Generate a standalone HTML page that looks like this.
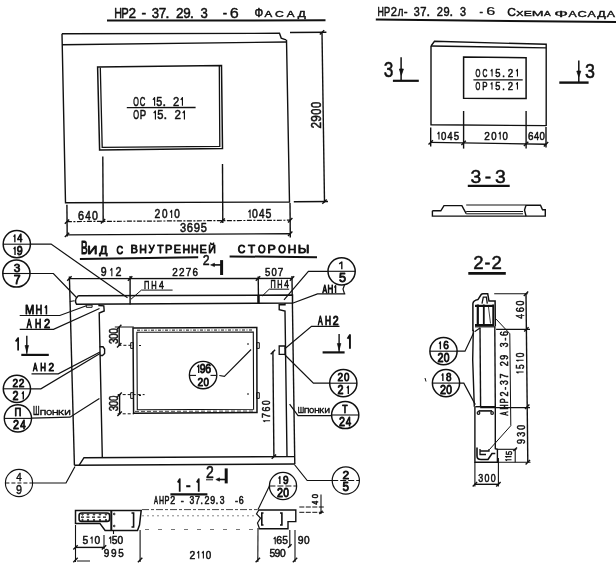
<!DOCTYPE html>
<html><head><meta charset="utf-8"><style>
html,body{margin:0;padding:0;background:#fff;width:616px;height:572px;overflow:hidden}
svg{display:block;will-change:transform}
text{font-family:"Liberation Sans",sans-serif;fill:#111;stroke:#111;stroke-width:0.5px;vector-effect:non-scaling-stroke;stroke-linejoin:round}
</style></head><body>
<svg width="616" height="572" viewBox="0 0 616 572">
<rect width="616" height="572" fill="#fff"/>
<text transform="translate(115.10,17.50) scale(0.690,1)" x="-1.28" y="0" font-size="15.55">Н</text><text transform="translate(122.08,17.50) scale(0.724,1)" x="-1.28" y="0" font-size="15.55">Р</text><text transform="translate(129.07,17.50) scale(0.876,1)" x="-0.78" y="0" font-size="15.55">2</text><text transform="translate(142.07,17.50) scale(0.902,1)" x="-0.69" y="0" font-size="15.55">-</text><text transform="translate(152.29,17.50) scale(0.842,1)" x="-0.59" y="0" font-size="15.55">3</text><text transform="translate(159.49,17.50) scale(0.878,1)" x="-0.80" y="0" font-size="15.55">7</text><text transform="translate(166.69,17.50) scale(1.000,1)" x="-1.42" y="0" font-size="15.55">.</text><text transform="translate(176.69,17.50) scale(0.876,1)" x="-0.78" y="0" font-size="15.55">2</text><text transform="translate(183.89,17.50) scale(0.864,1)" x="-0.73" y="0" font-size="15.55">9</text><text transform="translate(191.09,17.50) scale(1.000,1)" x="-1.42" y="0" font-size="15.55">.</text><text transform="translate(201.09,17.50) scale(0.842,1)" x="-0.59" y="0" font-size="15.55">3</text>
<text transform="translate(223.40,17.50) scale(0.843,1)" x="-0.69" y="0" font-size="15.55">-</text>
<text transform="translate(230.50,17.50) scale(1.045,1)" x="-0.79" y="0" font-size="15.55" style="stroke-width:0.35px">6</text>
<text transform="translate(255.10,17.20) scale(0.963,1)" x="-0.69" y="0" font-size="11.92">Ф</text>
<text transform="translate(264.50,17.20) scale(1.336,1)" x="-0.02" y="0" font-size="8.72">А</text><text transform="translate(275.59,17.20) scale(1.399,1)" x="-0.44" y="0" font-size="8.72">С</text><text transform="translate(286.68,17.20) scale(1.336,1)" x="-0.02" y="0" font-size="8.72">А</text><text transform="translate(297.77,17.20) scale(1.360,1)" x="-0.06" y="0" font-size="8.72">Д</text>
<polyline points="107.0,20.6 325.5,20.3" fill="none" stroke="#111" stroke-width="2.0"/>
<polyline points="62.0,33.8 279.5,33.3 281.2,38.1 286.0,39.8" fill="none" stroke="#111" stroke-width="1.4"/>
<polyline points="62.0,44.8 286.5,42.0" fill="none" stroke="#111" stroke-width="1.4"/>
<polyline points="62.0,33.8 65.5,202.8 289.5,202.0 286.5,39.8" fill="none" stroke="#111" stroke-width="1.4"/>
<polygon points="97.6,67.0 221.5,65.5 222.5,148.5 99.6,150.0" fill="none" stroke="#111" stroke-width="1.5"/>
<polyline points="100.3,67.5 102.2,147.3 219.8,146.3 219.3,66.0" fill="none" stroke="#111" stroke-width="1.3"/>
<text transform="translate(133.60,105.80) scale(0.564,1)" x="-0.61" y="0" font-size="12.79">О</text><text transform="translate(140.17,105.80) scale(0.608,1)" x="-0.65" y="0" font-size="12.79">С</text><path d="M152.92,99.82 L154.59,97.57 L154.59,105.80" fill="none" stroke="#111" stroke-width="1.14" stroke-linejoin="round"/><text transform="translate(156.80,105.80) scale(0.842,1)" x="-0.51" y="0" font-size="12.79">5</text><text transform="translate(163.55,105.80) scale(1.000,1)" x="-1.17" y="0" font-size="12.79">.</text><text transform="translate(173.44,105.80) scale(0.876,1)" x="-0.64" y="0" font-size="12.79">2</text><path d="M180.76,99.82 L182.43,97.57 L182.43,105.80" fill="none" stroke="#111" stroke-width="1.14" stroke-linejoin="round"/>
<polyline points="126.8,107.7 195.6,107.5" fill="none" stroke="#111" stroke-width="1.3"/>
<text transform="translate(133.60,119.40) scale(0.564,1)" x="-0.63" y="0" font-size="13.23">О</text><text transform="translate(140.43,119.40) scale(0.724,1)" x="-1.09" y="0" font-size="13.23">Р</text><path d="M153.69,113.21 L155.42,110.89 L155.42,119.40" fill="none" stroke="#111" stroke-width="1.18" stroke-linejoin="round"/><text transform="translate(157.75,119.40) scale(0.842,1)" x="-0.53" y="0" font-size="13.23">5</text><text transform="translate(164.77,119.40) scale(1.000,1)" x="-1.21" y="0" font-size="13.23">.</text><text transform="translate(175.07,119.40) scale(0.876,1)" x="-0.67" y="0" font-size="13.23">2</text><path d="M182.68,113.21 L184.41,110.89 L184.41,119.40" fill="none" stroke="#111" stroke-width="1.18" stroke-linejoin="round"/>
<polyline points="102.8,156.6 103.2,222.5" fill="none" stroke="#111" stroke-width="1.4"/>
<polyline points="222.5,164.0 222.8,223.0" fill="none" stroke="#111" stroke-width="1.4"/>
<polyline points="66.9,204.7 67.2,236.5" fill="none" stroke="#111" stroke-width="1.4"/>
<polyline points="290.0,203.0 290.3,237.5" fill="none" stroke="#111" stroke-width="1.4"/>
<polyline points="66.9,221.6 290.3,220.2" fill="none" stroke="#111" stroke-width="1.2" stroke-dasharray="5,1.5,2,1.5"/>
<polyline points="66.9,234.9 290.3,233.7" fill="none" stroke="#111" stroke-width="1.4"/>
<polyline points="64.8,223.8 69.2,219.4" fill="none" stroke="#111" stroke-width="1.4"/>
<polyline points="100.8,223.5 105.2,219.1" fill="none" stroke="#111" stroke-width="1.4"/>
<polyline points="220.4,222.8 224.8,218.4" fill="none" stroke="#111" stroke-width="1.4"/>
<polyline points="288.0,222.4 292.4,218.0" fill="none" stroke="#111" stroke-width="1.4"/>
<polyline points="64.8,237.1 69.2,232.7" fill="none" stroke="#111" stroke-width="1.4"/>
<polyline points="288.0,235.9 292.4,231.5" fill="none" stroke="#111" stroke-width="1.4"/>
<text transform="translate(78.60,219.50) scale(0.865,1)" x="-0.64" y="0" font-size="12.65">6</text><text transform="translate(85.53,219.50) scale(0.792,1)" x="-0.29" y="0" font-size="12.65">4</text><text transform="translate(92.45,219.50) scale(0.835,1)" x="-0.49" y="0" font-size="12.65">0</text>
<text transform="translate(155.00,217.90) scale(0.876,1)" x="-0.60" y="0" font-size="11.92">2</text><text transform="translate(162.29,217.90) scale(0.835,1)" x="-0.47" y="0" font-size="11.92">0</text><path d="M170.13,212.32 L171.66,210.25 L171.66,217.90" fill="none" stroke="#111" stroke-width="1.10" stroke-linejoin="round"/><text transform="translate(174.74,217.90) scale(0.835,1)" x="-0.47" y="0" font-size="11.92">0</text>
<path d="M248.46,212.15 L250.09,209.96 L250.09,218.00" fill="none" stroke="#111" stroke-width="1.12" stroke-linejoin="round"/><text transform="translate(252.45,218.00) scale(0.835,1)" x="-0.49" y="0" font-size="12.50">0</text><text transform="translate(259.23,218.00) scale(0.792,1)" x="-0.29" y="0" font-size="12.50">4</text><text transform="translate(266.01,218.00) scale(0.842,1)" x="-0.50" y="0" font-size="12.50">5</text>
<text transform="translate(180.30,231.70) scale(0.842,1)" x="-0.50" y="0" font-size="13.08">3</text><text transform="translate(187.23,231.70) scale(0.865,1)" x="-0.66" y="0" font-size="13.08">6</text><text transform="translate(194.15,231.70) scale(0.864,1)" x="-0.61" y="0" font-size="13.08">9</text><text transform="translate(201.08,231.70) scale(0.842,1)" x="-0.52" y="0" font-size="13.08">5</text>
<polyline points="290.0,32.5 326.4,32.3" fill="none" stroke="#111" stroke-width="1.4"/>
<polyline points="293.8,201.8 328.0,201.5" fill="none" stroke="#111" stroke-width="1.4"/>
<polyline points="322.0,32.4 324.5,202.5" fill="none" stroke="#111" stroke-width="1.4"/>
<polyline points="319.8,34.6 324.2,30.2" fill="none" stroke="#111" stroke-width="1.4"/>
<polyline points="322.3,203.8 326.7,199.4" fill="none" stroke="#111" stroke-width="1.4"/>
<g transform="translate(320.60,128.00) rotate(-90)"><text transform="translate(0.00,0.00) scale(0.832,1)" x="-0.72" y="0" font-size="14.24">2</text><text transform="translate(6.80,0.00) scale(0.821,1)" x="-0.67" y="0" font-size="14.24">9</text><text transform="translate(13.60,0.00) scale(0.793,1)" x="-0.56" y="0" font-size="14.24">0</text><text transform="translate(20.40,0.00) scale(0.793,1)" x="-0.56" y="0" font-size="14.24">0</text></g>
<text transform="translate(378.20,15.60) scale(0.690,1)" x="-1.05" y="0" font-size="12.79">Н</text><text transform="translate(384.69,15.60) scale(0.724,1)" x="-1.05" y="0" font-size="12.79">Р</text><text transform="translate(391.19,15.60) scale(0.876,1)" x="-0.64" y="0" font-size="12.79">2</text><text transform="translate(397.86,15.60) scale(0.757,1)" x="-0.07" y="0" font-size="12.79">л</text><text transform="translate(404.35,15.60) scale(0.902,1)" x="-0.57" y="0" font-size="12.79">-</text><text transform="translate(414.26,15.60) scale(0.842,1)" x="-0.49" y="0" font-size="12.79">3</text><text transform="translate(420.93,15.60) scale(0.878,1)" x="-0.66" y="0" font-size="12.79">7</text><text transform="translate(427.60,15.60) scale(1.000,1)" x="-1.17" y="0" font-size="12.79">.</text><text transform="translate(437.33,15.60) scale(0.876,1)" x="-0.64" y="0" font-size="12.79">2</text><text transform="translate(444.00,15.60) scale(0.864,1)" x="-0.60" y="0" font-size="12.79">9</text><text transform="translate(450.67,15.60) scale(1.000,1)" x="-1.17" y="0" font-size="12.79">.</text><text transform="translate(460.40,15.60) scale(0.842,1)" x="-0.49" y="0" font-size="12.79">3</text>
<text transform="translate(479.99,15.40) scale(1.000,1)" x="-0.46" y="0" font-size="10.32">-</text>
<text transform="translate(487.00,15.40) scale(1.575,1)" x="-0.52" y="0" font-size="10.32" style="stroke-width:0.3px">6</text>
<text transform="translate(507.90,16.10) scale(1.058,1)" x="-0.58" y="0" font-size="11.34">С</text>
<text transform="translate(516.50,16.10) scale(1.359,1)" x="-0.18" y="0" font-size="7.85">Х</text><text transform="translate(524.70,16.10) scale(1.564,1)" x="-0.64" y="0" font-size="7.85">Е</text><text transform="translate(532.90,16.10) scale(1.810,1)" x="-0.64" y="0" font-size="7.85">М</text><text transform="translate(543.95,16.10) scale(1.278,1)" x="-0.02" y="0" font-size="7.85">А</text>
<text transform="translate(555.30,17.00) scale(2.219,1)" x="-0.47" y="0" font-size="8.14">Ф</text><text transform="translate(568.40,17.00) scale(1.511,1)" x="-0.02" y="0" font-size="8.14">А</text><text transform="translate(578.02,17.00) scale(1.582,1)" x="-0.41" y="0" font-size="8.14">С</text><text transform="translate(587.63,17.00) scale(1.511,1)" x="-0.02" y="0" font-size="8.14">А</text><text transform="translate(597.24,17.00) scale(1.538,1)" x="-0.06" y="0" font-size="8.14">Д</text><text transform="translate(606.85,17.00) scale(1.511,1)" x="-0.02" y="0" font-size="8.14">А</text>
<polyline points="375.8,19.6 616.0,22.0" fill="none" stroke="#111" stroke-width="2.0"/>
<polyline points="431.0,46.0 434.5,41.3 546.2,44.3 546.2,126.0" fill="none" stroke="#111" stroke-width="1.4"/>
<polyline points="431.0,46.0 546.2,47.9" fill="none" stroke="#111" stroke-width="1.4"/>
<polyline points="431.0,46.0 431.0,124.8 546.2,125.6" fill="none" stroke="#111" stroke-width="1.4"/>
<polygon points="463.6,57.0 526.1,57.8 526.1,98.6 463.6,98.2" fill="none" stroke="#111" stroke-width="1.5"/>
<text transform="translate(475.70,76.50) scale(0.564,1)" x="-0.53" y="0" font-size="11.19">О</text><text transform="translate(482.93,76.50) scale(0.608,1)" x="-0.57" y="0" font-size="11.19">С</text><path d="M490.71,71.26 L492.07,69.35 L492.07,76.50" fill="none" stroke="#111" stroke-width="1.10" stroke-linejoin="round"/><text transform="translate(495.54,76.50) scale(0.842,1)" x="-0.45" y="0" font-size="11.19">5</text><text transform="translate(502.92,76.50) scale(1.000,1)" x="-1.02" y="0" font-size="11.19">.</text><text transform="translate(508.15,76.50) scale(0.876,1)" x="-0.56" y="0" font-size="11.19">2</text><path d="M516.09,71.26 L517.45,69.35 L517.45,76.50" fill="none" stroke="#111" stroke-width="1.10" stroke-linejoin="round"/>
<polyline points="473.4,79.8 522.7,79.8" fill="none" stroke="#111" stroke-width="1.3"/>
<text transform="translate(475.70,89.50) scale(0.564,1)" x="-0.52" y="0" font-size="10.90">О</text><text transform="translate(482.93,89.50) scale(0.724,1)" x="-0.89" y="0" font-size="10.90">Р</text><path d="M490.70,84.40 L492.00,82.55 L492.00,89.50" fill="none" stroke="#111" stroke-width="1.10" stroke-linejoin="round"/><text transform="translate(495.58,89.50) scale(0.842,1)" x="-0.44" y="0" font-size="10.90">5</text><text transform="translate(502.95,89.50) scale(1.000,1)" x="-1.00" y="0" font-size="10.90">.</text><text transform="translate(508.23,89.50) scale(0.876,1)" x="-0.55" y="0" font-size="10.90">2</text><path d="M516.15,84.40 L517.45,82.55 L517.45,89.50" fill="none" stroke="#111" stroke-width="1.10" stroke-linejoin="round"/>
<polyline points="463.6,111.0 463.6,148.6" fill="none" stroke="#111" stroke-width="1.4"/>
<polyline points="526.1,111.0 526.1,148.6" fill="none" stroke="#111" stroke-width="1.4"/>
<polyline points="430.7,127.5 430.7,146.5" fill="none" stroke="#111" stroke-width="1.4"/>
<polyline points="546.0,127.0 546.0,147.5" fill="none" stroke="#111" stroke-width="1.4"/>
<polyline points="430.7,142.4 546.0,144.2" fill="none" stroke="#111" stroke-width="1.4"/>
<polyline points="428.5,144.6 432.9,140.2" fill="none" stroke="#111" stroke-width="1.4"/>
<polyline points="461.4,145.1 465.8,140.7" fill="none" stroke="#111" stroke-width="1.4"/>
<polyline points="523.9,146.1 528.3,141.7" fill="none" stroke="#111" stroke-width="1.4"/>
<polyline points="543.8,146.4 548.2,142.0" fill="none" stroke="#111" stroke-width="1.4"/>
<path d="M437.55,134.13 L438.98,132.15 L438.98,139.50" fill="none" stroke="#111" stroke-width="1.10" stroke-linejoin="round"/><text transform="translate(441.30,139.50) scale(0.835,1)" x="-0.45" y="0" font-size="11.48">0</text><text transform="translate(447.66,139.50) scale(0.792,1)" x="-0.26" y="0" font-size="11.48">4</text><text transform="translate(454.02,139.50) scale(0.842,1)" x="-0.46" y="0" font-size="11.48">5</text>
<text transform="translate(484.80,139.50) scale(0.876,1)" x="-0.58" y="0" font-size="11.48">2</text><text transform="translate(491.52,139.50) scale(0.835,1)" x="-0.45" y="0" font-size="11.48">0</text><path d="M498.80,134.13 L500.23,132.15 L500.23,139.50" fill="none" stroke="#111" stroke-width="1.10" stroke-linejoin="round"/><text transform="translate(502.92,139.50) scale(0.835,1)" x="-0.45" y="0" font-size="11.48">0</text>
<text transform="translate(528.60,139.50) scale(0.865,1)" x="-0.58" y="0" font-size="11.48">6</text><text transform="translate(534.26,139.50) scale(0.792,1)" x="-0.26" y="0" font-size="11.48">4</text><text transform="translate(539.92,139.50) scale(0.835,1)" x="-0.45" y="0" font-size="11.48">0</text>
<text transform="translate(384.30,77.20) scale(0.793,1)" x="-0.83" y="0" font-size="21.80">3</text>
<polyline points="401.1,57.3 401.1,80.4" fill="none" stroke="#111" stroke-width="1.5"/>
<polygon points="399.4,69.0 403.4,69.0 401.3,75.2" fill="#111" stroke="#111" stroke-width="0.8"/>
<polyline points="392.9,80.8 418.8,80.8" fill="none" stroke="#111" stroke-width="2.2"/>
<text transform="translate(585.70,77.60) scale(0.920,1)" x="-0.74" y="0" font-size="19.48">3</text>
<polyline points="578.8,60.6 578.8,82.5" fill="none" stroke="#111" stroke-width="1.5"/>
<polygon points="576.8,71.1 580.8,71.1 578.8,76.8" fill="#111" stroke="#111" stroke-width="0.8"/>
<polyline points="559.3,82.6 588.6,82.6" fill="none" stroke="#111" stroke-width="2.4"/>
<text transform="translate(471.20,182.50) scale(1.010,1)" x="-0.73" y="0" font-size="19.19">3</text><text transform="translate(485.66,182.50) scale(1.000,1)" x="-0.85" y="0" font-size="19.19">-</text><text transform="translate(495.61,182.50) scale(1.010,1)" x="-0.73" y="0" font-size="19.19">3</text>
<polyline points="467.8,185.8 509.7,185.8" fill="none" stroke="#111" stroke-width="2.2"/>
<polyline points="432.4,210.8 440.8,210.8 444.0,205.6 461.9,205.6 466.2,213.6" fill="none" stroke="#111" stroke-width="1.4"/>
<polyline points="432.4,210.8 432.4,216.1 545.3,216.1 545.3,209.8 542.5,209.8 540.5,205.3 526.0,205.3" fill="none" stroke="#111" stroke-width="1.4"/>
<polyline points="466.2,205.0 526.0,205.0" fill="none" stroke="#111" stroke-width="1.0"/>
<polyline points="466.2,211.5 523.0,211.5" fill="none" stroke="#111" stroke-width="1.0"/>
<polyline points="466.2,213.8 523.0,213.8" fill="none" stroke="#111" stroke-width="1.0"/>
<polyline points="526.0,205.3 524.5,210.0 526.0,216.1" fill="none" stroke="#111" stroke-width="1.4"/>
<text transform="translate(474.10,269.00) scale(1.051,1)" x="-0.89" y="0" font-size="17.73">2</text><text transform="translate(485.34,269.00) scale(1.000,1)" x="-0.79" y="0" font-size="17.73">-</text><text transform="translate(492.41,269.00) scale(1.051,1)" x="-0.89" y="0" font-size="17.73">2</text>
<polyline points="468.3,273.4 505.8,273.4" fill="none" stroke="#111" stroke-width="2.6"/>
<text transform="translate(81.80,253.50) scale(0.571,1)" x="-1.43" y="0" font-size="17.44" style="stroke-width:0.9px">В</text>
<text transform="translate(88.50,253.50) scale(1.250,1)" x="-0.93" y="0" font-size="11.34" style="stroke-width:0.9px">И</text><text transform="translate(99.24,253.50) scale(1.065,1)" x="-0.08" y="0" font-size="11.34" style="stroke-width:0.9px">Д</text>
<text transform="translate(116.90,253.50) scale(0.808,1)" x="-0.58" y="0" font-size="11.34" style="stroke-width:0.9px">С</text>
<text transform="translate(131.50,253.30) scale(0.941,1)" x="-0.97" y="0" font-size="11.77" style="stroke-width:0.9px">В</text><text transform="translate(140.12,253.30) scale(0.897,1)" x="-0.97" y="0" font-size="11.77" style="stroke-width:0.9px">Н</text><text transform="translate(148.75,253.30) scale(0.817,1)" x="-0.32" y="0" font-size="11.77" style="stroke-width:0.9px">У</text><text transform="translate(157.37,253.30) scale(0.886,1)" x="-0.26" y="0" font-size="11.77" style="stroke-width:0.9px">Т</text><text transform="translate(165.99,253.30) scale(0.941,1)" x="-0.97" y="0" font-size="11.77" style="stroke-width:0.9px">Р</text><text transform="translate(174.61,253.30) scale(0.924,1)" x="-0.97" y="0" font-size="11.77" style="stroke-width:0.9px">Е</text><text transform="translate(183.24,253.30) scale(0.897,1)" x="-0.97" y="0" font-size="11.77" style="stroke-width:0.9px">Н</text><text transform="translate(191.86,253.30) scale(0.897,1)" x="-0.97" y="0" font-size="11.77" style="stroke-width:0.9px">Н</text><text transform="translate(200.48,253.30) scale(0.924,1)" x="-0.97" y="0" font-size="11.77" style="stroke-width:0.9px">Е</text><text transform="translate(209.10,253.30) scale(0.903,1)" x="-0.97" y="0" font-size="11.77" style="stroke-width:0.9px">Й</text>
<text transform="translate(238.20,253.10) scale(0.913,1)" x="-0.58" y="0" font-size="11.48" style="stroke-width:0.9px">С</text><text transform="translate(248.32,253.10) scale(1.022,1)" x="-0.26" y="0" font-size="11.48" style="stroke-width:0.9px">Т</text><text transform="translate(258.44,253.10) scale(0.847,1)" x="-0.54" y="0" font-size="11.48" style="stroke-width:0.9px">О</text><text transform="translate(268.56,253.10) scale(1.086,1)" x="-0.94" y="0" font-size="11.48" style="stroke-width:0.9px">Р</text><text transform="translate(278.68,253.10) scale(0.847,1)" x="-0.54" y="0" font-size="11.48" style="stroke-width:0.9px">О</text><text transform="translate(288.80,253.10) scale(1.035,1)" x="-0.94" y="0" font-size="11.48" style="stroke-width:0.9px">Н</text><text transform="translate(298.92,253.10) scale(1.145,1)" x="-0.94" y="0" font-size="11.48" style="stroke-width:0.9px">Ы</text>
<polyline points="79.9,259.0 198.2,257.3" fill="none" stroke="#111" stroke-width="2.0"/>
<polyline points="229.6,256.4 317.0,257.2" fill="none" stroke="#111" stroke-width="2.0"/>
<text transform="translate(203.40,264.60) scale(0.872,1)" x="-0.71" y="0" font-size="14.10">2</text>
<polyline points="213.5,264.9 221.6,264.9" fill="none" stroke="#111" stroke-width="1.6"/>
<polygon points="210.6,264.9 214.5,263.2 214.5,266.6" fill="#111" stroke="#111" stroke-width="0.6"/>
<polyline points="221.6,260.1 221.6,275.0" fill="none" stroke="#111" stroke-width="3.0"/>
<polyline points="69.1,278.6 292.5,278.4" fill="none" stroke="#111" stroke-width="1.4"/>
<polyline points="67.2,280.7 71.6,276.3" fill="none" stroke="#111" stroke-width="1.4"/>
<polyline points="127.9,280.7 132.3,276.3" fill="none" stroke="#111" stroke-width="1.4"/>
<polyline points="255.8,280.7 260.2,276.3" fill="none" stroke="#111" stroke-width="1.4"/>
<polyline points="289.8,280.7 294.2,276.3" fill="none" stroke="#111" stroke-width="1.4"/>
<text transform="translate(101.30,276.20) scale(0.864,1)" x="-0.57" y="0" font-size="12.21">9</text><path d="M110.26,270.49 L111.84,268.35 L111.84,276.20" fill="none" stroke="#111" stroke-width="1.10" stroke-linejoin="round"/><text transform="translate(115.93,276.20) scale(0.876,1)" x="-0.61" y="0" font-size="12.21">2</text>
<text transform="translate(172.80,275.80) scale(0.876,1)" x="-0.57" y="0" font-size="11.34">2</text><text transform="translate(179.53,275.80) scale(0.876,1)" x="-0.57" y="0" font-size="11.34">2</text><text transform="translate(186.25,275.80) scale(0.878,1)" x="-0.58" y="0" font-size="11.34">7</text><text transform="translate(192.98,275.80) scale(0.865,1)" x="-0.58" y="0" font-size="11.34">6</text>
<text transform="translate(265.30,275.60) scale(0.842,1)" x="-0.45" y="0" font-size="11.34">5</text><text transform="translate(271.79,275.60) scale(0.835,1)" x="-0.44" y="0" font-size="11.34">0</text><text transform="translate(278.28,275.60) scale(0.878,1)" x="-0.58" y="0" font-size="11.34">7</text>
<polyline points="130.1,276.0 130.1,304.4" fill="none" stroke="#111" stroke-width="1.4"/>
<polyline points="258.2,276.6 258.5,303.0" fill="none" stroke="#111" stroke-width="1.4"/>
<polyline points="258.5,295.5 258.5,303.0" fill="none" stroke="#111" stroke-width="2.4"/>
<polyline points="292.0,276.0 292.2,296.0" fill="none" stroke="#111" stroke-width="1.4"/>
<text transform="translate(144.70,289.20) scale(0.690,1)" x="-0.88" y="0" font-size="10.90">П</text><text transform="translate(151.92,289.20) scale(0.690,1)" x="-0.89" y="0" font-size="10.90">Н</text><text transform="translate(159.15,289.20) scale(0.792,1)" x="-0.25" y="0" font-size="10.90">4</text>
<polyline points="141.4,290.1 172.6,290.1" fill="none" stroke="#111" stroke-width="1.0"/>
<polyline points="141.4,290.1 131.0,299.2" fill="none" stroke="#111" stroke-width="1.0"/>
<text transform="translate(271.10,288.20) scale(0.690,1)" x="-0.85" y="0" font-size="10.47">П</text><text transform="translate(277.76,288.20) scale(0.690,1)" x="-0.86" y="0" font-size="10.47">Н</text><text transform="translate(284.42,288.20) scale(0.792,1)" x="-0.24" y="0" font-size="10.47">4</text>
<polyline points="269.2,289.2 289.2,289.2" fill="none" stroke="#111" stroke-width="1.0"/>
<polyline points="269.2,289.2 262.3,296.0" fill="none" stroke="#111" stroke-width="1.0"/>
<polyline points="69.4,276.5 74.4,465.3" fill="none" stroke="#111" stroke-width="1.4"/>
<polyline points="69.8,301.5 74.5,300.8" fill="none" stroke="#111" stroke-width="1.1"/>
<polyline points="292.4,303.0 294.8,464.0" fill="none" stroke="#111" stroke-width="1.4"/>
<path d="M78.2,295.7 L292.5,295.1 L292.5,303.0 L76.5,304.2 Q73.8,300 78.2,295.7" fill="none" stroke="#111" stroke-width="1.5"/>
<polygon points="86.3,305.1 92.1,305.1 92.1,307.3 86.3,307.3" fill="none" stroke="#111" stroke-width="1.0"/>
<polyline points="99.0,304.2 99.0,305.5 103.8,305.8 104.2,311.0 99.2,313.0 102.3,457.2" fill="none" stroke="#111" stroke-width="1.4"/>
<polyline points="99.5,346.8 103.0,346.8 104.6,349.0 104.6,353.5 102.5,355.5 99.8,355.5" fill="none" stroke="#111" stroke-width="1.4"/>
<polyline points="285.0,303.2 285.0,304.7 279.2,304.7 279.2,309.6 285.0,311.0 287.0,456.6" fill="none" stroke="#111" stroke-width="1.4"/>
<polygon points="279.2,346.0 285.0,346.0 285.0,354.3 279.2,354.3" fill="none" stroke="#111" stroke-width="1.3"/>
<polyline points="79.2,465.2 84.0,457.7 294.8,456.6" fill="none" stroke="#111" stroke-width="1.4"/>
<polyline points="74.4,465.3 294.8,463.9" fill="none" stroke="#111" stroke-width="1.5"/>
<polygon points="133.0,328.0 256.8,327.5 257.0,412.5 133.6,413.2" fill="none" stroke="#111" stroke-width="1.5"/>
<polygon points="136.9,332.3 253.3,332.0 253.6,409.3 137.3,409.7" fill="none" stroke="#111" stroke-width="1.1"/>
<polyline points="137.0,330.2 253.0,330.0" fill="none" stroke="#111" stroke-width="1.0" stroke-dasharray="3,1.5,1,1.5"/>
<polyline points="135.0,411.4 255.0,411.0" fill="none" stroke="#111" stroke-width="0.8" stroke-dasharray="4,2"/>
<polygon points="130.7,342.7 133.4,342.7 133.4,348.4 130.7,348.4" fill="none" stroke="#111" stroke-width="1.0"/>
<polygon points="256.6,342.7 259.3,342.7 259.3,348.4 256.6,348.4" fill="none" stroke="#111" stroke-width="1.0"/>
<polygon points="130.7,392.7 133.4,392.7 133.4,398.4 130.7,398.4" fill="none" stroke="#111" stroke-width="1.0"/>
<polygon points="256.6,392.7 259.3,392.7 259.3,398.4 256.6,398.4" fill="none" stroke="#111" stroke-width="1.0"/>
<polyline points="139.0,345.5 141.0,345.5" fill="none" stroke="#111" stroke-width="1.0"/>
<polyline points="247.0,344.0 249.0,344.0" fill="none" stroke="#111" stroke-width="1.0"/>
<polyline points="139.0,395.5 141.0,395.5" fill="none" stroke="#111" stroke-width="1.0"/>
<polyline points="247.0,394.0 249.0,394.0" fill="none" stroke="#111" stroke-width="1.0"/>
<circle cx="203.1" cy="375.1" r="13.7" fill="none" stroke="#111" stroke-width="1.4"/>
<polyline points="190.0,375.4 196.0,375.4" fill="none" stroke="#111" stroke-width="1.1"/>
<polyline points="210.5,375.4 216.0,375.4" fill="none" stroke="#111" stroke-width="1.1"/>
<path d="M197.39,367.19 L198.70,365.19 L198.70,372.90" fill="none" stroke="#111" stroke-width="1.38" stroke-linejoin="round"/><text transform="translate(200.12,372.90) scale(0.864,1)" x="-0.57" y="0" font-size="12.21" style="stroke-width:0.85px">9</text><text transform="translate(205.73,372.90) scale(0.865,1)" x="-0.62" y="0" font-size="12.21" style="stroke-width:0.85px">6</text>
<text transform="translate(198.10,385.70) scale(0.876,1)" x="-0.59" y="0" font-size="11.77" style="stroke-width:0.85px">2</text><text transform="translate(204.00,385.70) scale(0.835,1)" x="-0.46" y="0" font-size="11.77" style="stroke-width:0.85px">0</text>
<polyline points="219.3,375.5 224.4,376.3 251.1,349.5" fill="none" stroke="#111" stroke-width="1.1"/>
<g transform="translate(117.50,343.60) rotate(-90)"><text transform="translate(0.00,0.00) scale(0.786,1)" x="-0.49" y="0" font-size="12.79">3</text><text transform="translate(5.07,0.00) scale(0.780,1)" x="-0.50" y="0" font-size="12.79">0</text><text transform="translate(10.13,0.00) scale(0.780,1)" x="-0.50" y="0" font-size="12.79">0</text></g>
<polyline points="119.2,327.0 119.2,345.3" fill="none" stroke="#111" stroke-width="1.4"/>
<polyline points="114.8,327.0 133.8,327.0" fill="none" stroke="#111" stroke-width="1.0"/>
<polyline points="118.4,345.3 131.6,345.3" fill="none" stroke="#111" stroke-width="1.0" stroke-dasharray="3,2"/>
<polyline points="117.0,329.2 121.4,324.8" fill="none" stroke="#111" stroke-width="1.4"/>
<polyline points="117.0,347.5 121.4,343.1" fill="none" stroke="#111" stroke-width="1.4"/>
<g transform="translate(117.70,410.80) rotate(-90)"><text transform="translate(0.00,0.00) scale(0.781,1)" x="-0.49" y="0" font-size="12.79">3</text><text transform="translate(5.03,0.00) scale(0.774,1)" x="-0.50" y="0" font-size="12.79">0</text><text transform="translate(10.07,0.00) scale(0.774,1)" x="-0.50" y="0" font-size="12.79">0</text></g>
<polyline points="119.6,394.6 119.6,413.8" fill="none" stroke="#111" stroke-width="1.4"/>
<polyline points="117.7,394.6 144.6,394.6" fill="none" stroke="#111" stroke-width="1.0" stroke-dasharray="3,2"/>
<polyline points="117.7,413.8 134.0,413.8" fill="none" stroke="#111" stroke-width="1.0" stroke-dasharray="3,2"/>
<polyline points="117.4,396.8 121.8,392.4" fill="none" stroke="#111" stroke-width="1.4"/>
<polyline points="117.4,416.0 121.8,411.6" fill="none" stroke="#111" stroke-width="1.4"/>
<g transform="translate(270.10,422.40) rotate(-90)"><path d="M0.55,-4.96 L1.67,-6.75 L1.67,0.00" fill="none" stroke="#111" stroke-width="1.10" stroke-linejoin="round"/><text transform="translate(4.72,0.00) scale(0.834,1)" x="-0.54" y="0" font-size="10.61">7</text><text transform="translate(11.25,0.00) scale(0.822,1)" x="-0.54" y="0" font-size="10.61">6</text><text transform="translate(17.78,0.00) scale(0.793,1)" x="-0.41" y="0" font-size="10.61">0</text></g>
<polyline points="272.9,351.5 273.9,456.6" fill="none" stroke="#111" stroke-width="1.4"/>
<polyline points="270.7,354.2 275.1,349.8" fill="none" stroke="#111" stroke-width="1.4"/>
<polyline points="271.7,458.8 276.1,454.4" fill="none" stroke="#111" stroke-width="1.4"/>
<circle cx="16.8" cy="244.2" r="13.6" fill="none" stroke="#111" stroke-width="1.5"/>
<polyline points="3.2,244.2 30.4,244.2" fill="none" stroke="#111" stroke-width="1.1"/>
<path d="M13.69,236.76 L14.87,234.89 L14.87,242.20" fill="none" stroke="#111" stroke-width="1.38" stroke-linejoin="round"/><text transform="translate(17.56,242.20) scale(0.792,1)" x="-0.27" y="0" font-size="11.63" style="stroke-width:0.85px">4</text>
<path d="M13.69,249.22 L15.03,247.19 L15.03,255.00" fill="none" stroke="#111" stroke-width="1.39" stroke-linejoin="round"/><text transform="translate(17.27,255.00) scale(0.864,1)" x="-0.58" y="0" font-size="12.35" style="stroke-width:0.85px">9</text>
<polyline points="30.4,244.1 51.1,244.1 127.5,297.7" fill="none" stroke="#111" stroke-width="1.2"/>
<circle cx="16.4" cy="273.5" r="13.6" fill="none" stroke="#111" stroke-width="1.5"/>
<polyline points="2.8,273.5 30.0,273.5" fill="none" stroke="#111" stroke-width="1.1"/>
<text transform="translate(14.30,271.50) scale(1.016,1)" x="-0.44" y="0" font-size="11.63" style="stroke-width:0.85px">3</text>
<text transform="translate(14.30,284.30) scale(0.997,1)" x="-0.63" y="0" font-size="12.35" style="stroke-width:0.85px">7</text>
<polyline points="30.0,273.5 53.4,273.5 76.5,297.5" fill="none" stroke="#111" stroke-width="1.2"/>
<text transform="translate(26.00,314.40) scale(0.823,1)" x="-1.12" y="0" font-size="13.66" style="stroke-width:0.9px">М</text><text transform="translate(36.22,314.40) scale(0.690,1)" x="-1.12" y="0" font-size="13.66" style="stroke-width:0.9px">Н</text><path d="M44.96,308.01 L46.43,305.77 L46.43,314.40" fill="none" stroke="#111" stroke-width="1.54" stroke-linejoin="round"/>
<polyline points="19.7,315.5 59.8,315.5 86.3,305.8" fill="none" stroke="#111" stroke-width="1.2"/>
<text transform="translate(26.80,327.80) scale(0.581,1)" x="-0.02" y="0" font-size="12.65" style="stroke-width:0.9px">А</text><text transform="translate(35.68,327.80) scale(0.690,1)" x="-1.04" y="0" font-size="12.65" style="stroke-width:0.9px">Н</text><text transform="translate(44.55,327.80) scale(0.876,1)" x="-0.64" y="0" font-size="12.65" style="stroke-width:0.9px">2</text>
<polyline points="19.7,329.4 53.5,329.4 99.5,308.5" fill="none" stroke="#111" stroke-width="1.2"/>
<path d="M15.67,341.49 L18.13,338.07 L18.13,350.60" fill="none" stroke="#111" stroke-width="1.74" stroke-linejoin="round"/>
<polyline points="26.8,335.7 26.8,353.8" fill="none" stroke="#111" stroke-width="1.4"/>
<polygon points="25.0,345.5 28.6,345.5 26.8,352.0" fill="#111" stroke="#111" stroke-width="0.6"/>
<polyline points="21.3,354.9 48.8,354.9" fill="none" stroke="#111" stroke-width="2.2"/>
<text transform="translate(33.10,371.10) scale(0.581,1)" x="-0.02" y="0" font-size="11.48" style="stroke-width:0.9px">А</text><text transform="translate(41.01,371.10) scale(0.690,1)" x="-0.94" y="0" font-size="11.48" style="stroke-width:0.9px">Н</text><text transform="translate(48.92,371.10) scale(0.876,1)" x="-0.58" y="0" font-size="11.48" style="stroke-width:0.9px">2</text>
<polyline points="31.5,373.8 58.3,373.8 100.0,352.0" fill="none" stroke="#111" stroke-width="1.2"/>
<circle cx="16.9" cy="388.8" r="13.6" fill="none" stroke="#111" stroke-width="1.5"/>
<polyline points="3.3,388.8 30.5,388.8" fill="none" stroke="#111" stroke-width="1.1"/>
<text transform="translate(13.00,386.80) scale(0.876,1)" x="-0.58" y="0" font-size="11.63" style="stroke-width:0.85px">2</text><text transform="translate(19.36,386.80) scale(0.876,1)" x="-0.58" y="0" font-size="11.63" style="stroke-width:0.85px">2</text>
<text transform="translate(13.00,399.60) scale(0.876,1)" x="-0.62" y="0" font-size="12.35" style="stroke-width:0.85px">2</text><path d="M21.97,393.82 L23.31,391.79 L23.31,399.60" fill="none" stroke="#111" stroke-width="1.39" stroke-linejoin="round"/>
<polyline points="30.5,388.8 40.9,388.8 100.0,353.5" fill="none" stroke="#111" stroke-width="1.2"/>
<circle cx="17.9" cy="418.4" r="13.6" fill="none" stroke="#111" stroke-width="1.4"/>
<polyline points="4.3,418.4 31.5,418.4" fill="none" stroke="#111" stroke-width="1.1"/>
<text transform="translate(15.20,416.40) scale(0.816,1)" x="-0.94" y="0" font-size="11.63" style="stroke-width:0.85px">П</text>
<text transform="translate(13.60,429.20) scale(0.876,1)" x="-0.62" y="0" font-size="12.35" style="stroke-width:0.85px">2</text><text transform="translate(20.37,429.20) scale(0.792,1)" x="-0.28" y="0" font-size="12.35" style="stroke-width:0.85px">4</text>
<text transform="translate(33.70,415.00) scale(0.588,1)" x="-1.00" y="0" font-size="12.21">Ш</text>
<text transform="translate(40.40,415.00) scale(1.138,1)" x="-0.65" y="0" font-size="7.99">П</text><text transform="translate(46.53,415.00) scale(0.931,1)" x="-0.38" y="0" font-size="7.99">О</text><text transform="translate(52.66,415.00) scale(1.138,1)" x="-0.66" y="0" font-size="7.99">Н</text><text transform="translate(58.79,415.00) scale(1.285,1)" x="-0.66" y="0" font-size="7.99">К</text><text transform="translate(64.92,415.00) scale(1.146,1)" x="-0.66" y="0" font-size="7.99">И</text>
<polyline points="31.5,418.2 70.0,417.2 99.4,398.5" fill="none" stroke="#111" stroke-width="1.2"/>
<circle cx="19.0" cy="483.0" r="13.6" fill="none" stroke="#111" stroke-width="1.1"/>
<polyline points="5.4,483.0 32.6,483.0" fill="none" stroke="#111" stroke-width="1.1" stroke-dasharray="4,2"/>
<text transform="translate(16.50,481.00) scale(0.853,1)" x="-0.27" y="0" font-size="11.63" style="stroke-width:0.4px">4</text>
<text transform="translate(16.50,493.80) scale(0.876,1)" x="-0.58" y="0" font-size="12.35" style="stroke-width:0.4px">9</text>
<polyline points="32.6,483.0 66.0,483.0 75.0,466.5" fill="none" stroke="#111" stroke-width="1.2"/>
<circle cx="341.6" cy="271.3" r="13.6" fill="none" stroke="#111" stroke-width="1.5"/>
<polyline points="328.0,271.3 355.2,271.3" fill="none" stroke="#111" stroke-width="1.1"/>
<path d="M339.19,263.86 L341.81,261.99 L341.81,269.30" fill="none" stroke="#111" stroke-width="1.38" stroke-linejoin="round"/>
<text transform="translate(339.50,282.10) scale(1.024,1)" x="-0.49" y="0" font-size="12.35" style="stroke-width:0.85px">5</text>
<polyline points="327.9,271.4 308.4,271.4 284.0,299.8" fill="none" stroke="#111" stroke-width="1.2"/>
<text transform="translate(322.60,293.00) scale(0.581,1)" x="-0.02" y="0" font-size="11.63" style="stroke-width:0.9px">А</text><text transform="translate(328.17,293.00) scale(0.690,1)" x="-0.95" y="0" font-size="11.63" style="stroke-width:0.9px">Н</text><path d="M334.45,287.56 L335.59,285.71 L335.59,293.00" fill="none" stroke="#111" stroke-width="1.42" stroke-linejoin="round"/>
<polyline points="344.5,285.0 343.0,289.0 344.5,293.9" fill="none" stroke="#111" stroke-width="1.2"/>
<polyline points="345.3,293.9 317.5,293.9 293.1,303.0" fill="none" stroke="#111" stroke-width="1.2"/>
<text transform="translate(318.00,324.80) scale(0.581,1)" x="-0.02" y="0" font-size="12.06" style="stroke-width:0.9px">А</text><text transform="translate(325.69,324.80) scale(0.690,1)" x="-0.99" y="0" font-size="12.06" style="stroke-width:0.9px">Н</text><text transform="translate(333.39,324.80) scale(0.876,1)" x="-0.61" y="0" font-size="12.06" style="stroke-width:0.9px">2</text>
<polyline points="339.5,326.3 311.5,326.3 284.8,348.7" fill="none" stroke="#111" stroke-width="1.2"/>
<polyline points="339.1,334.0 339.1,352.0" fill="none" stroke="#111" stroke-width="1.4"/>
<polygon points="337.3,343.5 340.9,343.5 339.1,350.0" fill="#111" stroke="#111" stroke-width="0.6"/>
<path d="M347.56,338.70 L349.94,334.96 L349.94,348.70" fill="none" stroke="#111" stroke-width="1.91" stroke-linejoin="round"/>
<polyline points="322.6,352.4 344.6,352.4" fill="none" stroke="#111" stroke-width="2.2"/>
<circle cx="343.3" cy="383.2" r="13.6" fill="none" stroke="#111" stroke-width="1.5"/>
<polyline points="329.7,383.2 356.9,383.2" fill="none" stroke="#111" stroke-width="1.1"/>
<text transform="translate(338.00,381.20) scale(0.876,1)" x="-0.58" y="0" font-size="11.63" style="stroke-width:0.85px">2</text><text transform="translate(344.36,381.20) scale(0.835,1)" x="-0.45" y="0" font-size="11.63" style="stroke-width:0.85px">0</text>
<text transform="translate(338.00,394.00) scale(0.876,1)" x="-0.62" y="0" font-size="12.35" style="stroke-width:0.85px">2</text><path d="M346.97,388.22 L348.31,386.19 L348.31,394.00" fill="none" stroke="#111" stroke-width="1.39" stroke-linejoin="round"/>
<polyline points="329.7,383.2 313.4,383.2 285.0,355.0" fill="none" stroke="#111" stroke-width="1.2"/>
<circle cx="345.2" cy="415.0" r="13.6" fill="none" stroke="#111" stroke-width="1.5"/>
<polyline points="331.6,415.0 358.8,415.0" fill="none" stroke="#111" stroke-width="1.1"/>
<text transform="translate(342.50,413.00) scale(0.760,1)" x="-0.26" y="0" font-size="11.63" style="stroke-width:0.85px">Т</text>
<text transform="translate(339.50,425.80) scale(0.876,1)" x="-0.62" y="0" font-size="12.35" style="stroke-width:0.85px">2</text><text transform="translate(346.07,425.80) scale(0.792,1)" x="-0.28" y="0" font-size="12.35" style="stroke-width:0.85px">4</text>
<text transform="translate(298.30,412.60) scale(0.699,1)" x="-0.81" y="0" font-size="9.88">Ш</text>
<text transform="translate(304.50,412.60) scale(1.173,1)" x="-0.52" y="0" font-size="6.40">П</text><text transform="translate(309.65,412.60) scale(0.959,1)" x="-0.30" y="0" font-size="6.40">О</text><text transform="translate(314.81,412.60) scale(1.173,1)" x="-0.52" y="0" font-size="6.40">Н</text><text transform="translate(319.96,412.60) scale(1.324,1)" x="-0.52" y="0" font-size="6.40">К</text><text transform="translate(325.11,412.60) scale(1.181,1)" x="-0.52" y="0" font-size="6.40">И</text>
<polyline points="331.6,415.6 298.0,415.6 289.6,404.2" fill="none" stroke="#111" stroke-width="1.2"/>
<circle cx="345.8" cy="480.5" r="13.6" fill="none" stroke="#111" stroke-width="1.2"/>
<polyline points="332.2,480.5 359.4,480.5" fill="none" stroke="#111" stroke-width="1.1" stroke-dasharray="6,2"/>
<text transform="translate(343.00,478.50) scale(1.038,1)" x="-0.58" y="0" font-size="11.63" style="stroke-width:0.85px">2</text>
<text transform="translate(343.00,491.30) scale(0.939,1)" x="-0.49" y="0" font-size="12.35" style="stroke-width:0.85px">5</text>
<polyline points="332.2,480.5 307.2,480.5 294.4,464.5" fill="none" stroke="#111" stroke-width="1.2"/>
<path d="M472.9,331 L472.9,303.5 Q473.2,300.2 478.1,299.4 L481.2,294.5 Q481.8,293.7 483,293.7 L487.7,293.7 L489,301.1 L495.1,301.1 L495.3,326.5" fill="none" stroke="#111" stroke-width="1.5"/>
<polyline points="482.0,303.7 483.3,297.2 486.4,297.2 487.3,303.7" fill="none" stroke="#111" stroke-width="1.3"/>
<polyline points="475.0,305.9 493.8,305.9" fill="none" stroke="#111" stroke-width="2.2"/>
<polyline points="475.0,325.1 493.8,325.1" fill="none" stroke="#111" stroke-width="2.2"/>
<polyline points="477.8,304.5 477.8,326.0" fill="none" stroke="#111" stroke-width="2.2"/>
<polyline points="483.8,304.5 483.8,326.0" fill="none" stroke="#111" stroke-width="1.8"/>
<polyline points="493.2,304.5 493.2,326.0" fill="none" stroke="#111" stroke-width="1.8"/>
<polyline points="488.5,307.0 490.5,323.5" fill="none" stroke="#111" stroke-width="0.8"/>
<polyline points="475.0,326.8 495.3,326.8" fill="none" stroke="#111" stroke-width="1.2"/>
<polyline points="474.6,331.7 480.3,327.7" fill="none" stroke="#111" stroke-width="1.1"/>
<polyline points="473.3,329.8 472.7,360.0 474.3,406.7" fill="none" stroke="#111" stroke-width="1.4"/>
<polyline points="480.0,327.7 480.6,406.7" fill="none" stroke="#111" stroke-width="1.4"/>
<polyline points="494.8,327.0 495.3,407.8" fill="none" stroke="#111" stroke-width="1.4"/>
<polyline points="475.3,406.7 495.3,406.7" fill="none" stroke="#111" stroke-width="1.4"/>
<polyline points="478.5,410.9 492.1,410.9" fill="none" stroke="#111" stroke-width="1.6"/>
<circle cx="478.5" cy="413.0" r="1.3" fill="none" stroke="#111" stroke-width="1.2"/>
<circle cx="492.1" cy="413.0" r="1.3" fill="none" stroke="#111" stroke-width="1.2"/>
<polyline points="474.9,406.7 474.9,462.3 497.4,462.3 497.4,449.3 495.3,448.7 495.3,408.0" fill="none" stroke="#111" stroke-width="1.4"/>
<path d="M477,447.5 L477,456 Q477,459.5 481,459.5 L488,459.5 L492,453.5 L495.3,453.5" fill="none" stroke="#111" stroke-width="1.6"/>
<path d="M480,449 L480,454.5 L486,454.5 M480,451 L489,451 L489,449" fill="none" stroke="#111" stroke-width="1.3"/>
<polyline points="494.2,293.8 527.8,293.8" fill="none" stroke="#111" stroke-width="1.1"/>
<polyline points="526.0,293.8 527.8,462.3" fill="none" stroke="#111" stroke-width="1.4"/>
<polyline points="496.1,329.4 530.0,329.4" fill="none" stroke="#111" stroke-width="1.1"/>
<polyline points="480.2,407.6 530.0,407.6" fill="none" stroke="#111" stroke-width="1.1"/>
<polyline points="497.4,449.3 516.5,449.3" fill="none" stroke="#111" stroke-width="1.1"/>
<polyline points="497.4,462.3 530.5,462.3" fill="none" stroke="#111" stroke-width="1.1"/>
<polyline points="515.2,449.3 515.2,462.3" fill="none" stroke="#111" stroke-width="1.1"/>
<polyline points="523.8,296.0 528.2,291.6" fill="none" stroke="#111" stroke-width="1.4"/>
<polyline points="524.2,331.6 528.6,327.2" fill="none" stroke="#111" stroke-width="1.4"/>
<polyline points="525.0,408.9 529.4,404.5" fill="none" stroke="#111" stroke-width="1.4"/>
<polyline points="525.6,464.5 530.0,460.1" fill="none" stroke="#111" stroke-width="1.4"/>
<polyline points="513.4,451.1 517.0,447.5" fill="none" stroke="#111" stroke-width="1.4"/>
<g transform="translate(523.90,318.60) rotate(-90)"><text transform="translate(0.00,0.00) scale(0.713,1)" x="-0.27" y="0" font-size="11.77">4</text><text transform="translate(6.69,0.00) scale(0.778,1)" x="-0.60" y="0" font-size="11.77">6</text><text transform="translate(13.37,0.00) scale(0.751,1)" x="-0.46" y="0" font-size="11.77">0</text></g>
<g transform="translate(523.60,373.70) rotate(-90)"><path d="M0.55,-5.17 L1.64,-7.05 L1.64,0.00" fill="none" stroke="#111" stroke-width="1.10" stroke-linejoin="round"/><text transform="translate(5.02,0.00) scale(0.757,1)" x="-0.44" y="0" font-size="11.05">5</text><path d="M12.36,-5.17 L13.45,-7.05 L13.45,0.00" fill="none" stroke="#111" stroke-width="1.10" stroke-linejoin="round"/><text transform="translate(16.83,0.00) scale(0.751,1)" x="-0.43" y="0" font-size="11.05">0</text></g>
<g transform="translate(525.20,443.50) rotate(-90)"><text transform="translate(0.00,0.00) scale(0.864,1)" x="-0.49" y="0" font-size="10.47">9</text><text transform="translate(7.01,0.00) scale(0.842,1)" x="-0.40" y="0" font-size="10.47">3</text><text transform="translate(14.02,0.00) scale(0.835,1)" x="-0.41" y="0" font-size="10.47">0</text></g>
<g transform="translate(511.50,461.30) rotate(-90)"><path d="M0.55,-4.42 L1.53,-5.95 L1.53,0.00" fill="none" stroke="#111" stroke-width="1.10" stroke-linejoin="round"/><path d="M3.72,-4.42 L4.70,-5.95 L4.70,0.00" fill="none" stroke="#111" stroke-width="1.10" stroke-linejoin="round"/><text transform="translate(6.33,0.00) scale(0.842,1)" x="-0.38" y="0" font-size="9.45">5</text></g>
<g transform="translate(507.60,415.50) rotate(-90)"><text transform="translate(0.00,0.00) scale(0.581,1)" x="-0.02" y="0" font-size="10.17">А</text><text transform="translate(6.46,0.00) scale(0.690,1)" x="-0.83" y="0" font-size="10.17">Н</text><text transform="translate(12.92,0.00) scale(0.724,1)" x="-0.83" y="0" font-size="10.17">Р</text><text transform="translate(19.38,0.00) scale(0.876,1)" x="-0.51" y="0" font-size="10.17">2</text><text transform="translate(25.99,0.00) scale(0.902,1)" x="-0.45" y="0" font-size="10.17">-</text><text transform="translate(30.77,0.00) scale(0.842,1)" x="-0.39" y="0" font-size="10.17">3</text><text transform="translate(37.37,0.00) scale(0.878,1)" x="-0.52" y="0" font-size="10.17">7</text><text transform="translate(49.66,0.00) scale(0.876,1)" x="-0.51" y="0" font-size="10.17">2</text><text transform="translate(56.26,0.00) scale(0.864,1)" x="-0.48" y="0" font-size="10.17">9</text><text transform="translate(68.56,0.00) scale(0.842,1)" x="-0.39" y="0" font-size="10.17">3</text><text transform="translate(75.16,0.00) scale(0.902,1)" x="-0.45" y="0" font-size="10.17">-</text><text transform="translate(79.94,0.00) scale(0.865,1)" x="-0.52" y="0" font-size="10.17">6</text></g>
<polyline points="496.1,319.1 509.8,333.7 510.8,425.7 489.4,449.6" fill="none" stroke="#111" stroke-width="1.0"/>
<text transform="translate(478.50,482.20) scale(0.842,1)" x="-0.40" y="0" font-size="10.61">3</text><text transform="translate(484.78,482.20) scale(0.835,1)" x="-0.41" y="0" font-size="10.61">0</text><text transform="translate(491.07,482.20) scale(0.835,1)" x="-0.41" y="0" font-size="10.61">0</text>
<polyline points="474.9,462.3 474.9,486.5" fill="none" stroke="#111" stroke-width="1.1"/>
<polyline points="498.4,458.0 498.4,486.5" fill="none" stroke="#111" stroke-width="1.1"/>
<polyline points="474.9,484.3 498.4,484.3" fill="none" stroke="#111" stroke-width="1.4"/>
<polyline points="472.7,486.5 477.1,482.1" fill="none" stroke="#111" stroke-width="1.4"/>
<polyline points="496.2,486.5 500.6,482.1" fill="none" stroke="#111" stroke-width="1.4"/>
<circle cx="443.5" cy="351.2" r="13.6" fill="none" stroke="#111" stroke-width="1.5"/>
<polyline points="429.9,351.2 457.1,351.2" fill="none" stroke="#111" stroke-width="1.1"/>
<path d="M439.19,343.76 L440.37,341.89 L440.37,349.20" fill="none" stroke="#111" stroke-width="1.38" stroke-linejoin="round"/><text transform="translate(443.86,349.20) scale(0.865,1)" x="-0.59" y="0" font-size="11.63" style="stroke-width:0.85px">6</text>
<text transform="translate(438.00,362.00) scale(0.876,1)" x="-0.62" y="0" font-size="12.35" style="stroke-width:0.85px">2</text><text transform="translate(444.07,362.00) scale(0.835,1)" x="-0.48" y="0" font-size="12.35" style="stroke-width:0.85px">0</text>
<polyline points="457.1,351.2 465.0,351.2 473.7,332.7" fill="none" stroke="#111" stroke-width="1.2"/>
<circle cx="446.0" cy="383.1" r="13.6" fill="none" stroke="#111" stroke-width="1.5"/>
<polyline points="432.4,383.1 459.6,383.1" fill="none" stroke="#111" stroke-width="1.1"/>
<path d="M441.69,375.66 L442.87,373.79 L442.87,381.10" fill="none" stroke="#111" stroke-width="1.38" stroke-linejoin="round"/><text transform="translate(446.36,381.10) scale(0.850,1)" x="-0.51" y="0" font-size="11.63" style="stroke-width:0.85px">8</text>
<text transform="translate(440.50,393.90) scale(0.876,1)" x="-0.62" y="0" font-size="12.35" style="stroke-width:0.85px">2</text><text transform="translate(446.57,393.90) scale(0.835,1)" x="-0.48" y="0" font-size="12.35" style="stroke-width:0.85px">0</text>
<polyline points="459.6,383.1 463.8,383.1 475.3,404.6" fill="none" stroke="#111" stroke-width="1.2"/>
<polyline points="425.0,378.0 426.0,381.5" fill="none" stroke="#111" stroke-width="1.0"/>
<text transform="translate(206.80,478.20) scale(0.871,1)" x="-0.81" y="0" font-size="16.13">2</text>
<polyline points="206.0,479.8 213.0,479.8" fill="none" stroke="#111" stroke-width="1.0"/>
<polyline points="218.5,479.5 226.0,479.5" fill="none" stroke="#111" stroke-width="1.6"/>
<polygon points="215.8,479.5 219.5,477.8 219.5,481.2" fill="#111" stroke="#111" stroke-width="0.6"/>
<polyline points="226.2,468.4 226.2,483.4" fill="none" stroke="#111" stroke-width="3.0"/>
<path d="M177.78,482.55 L179.71,479.08 L179.71,491.80" fill="none" stroke="#111" stroke-width="1.77" stroke-linejoin="round"/><text transform="translate(186.40,491.80) scale(0.766,1)" x="-0.88" y="0" font-size="19.77">-</text><path d="M196.79,482.55 L198.72,479.08 L198.72,491.80" fill="none" stroke="#111" stroke-width="1.77" stroke-linejoin="round"/>
<polyline points="170.4,494.4 207.4,494.4" fill="none" stroke="#111" stroke-width="2.4"/>
<text transform="translate(153.90,504.40) scale(0.581,1)" x="-0.02" y="0" font-size="10.17">А</text><text transform="translate(159.46,504.40) scale(0.690,1)" x="-0.83" y="0" font-size="10.17">Н</text><text transform="translate(165.03,504.40) scale(0.724,1)" x="-0.83" y="0" font-size="10.17">Р</text><text transform="translate(170.59,504.40) scale(0.876,1)" x="-0.51" y="0" font-size="10.17">2</text><text transform="translate(181.09,504.40) scale(0.902,1)" x="-0.45" y="0" font-size="10.17">-</text><text transform="translate(189.76,504.40) scale(0.842,1)" x="-0.39" y="0" font-size="10.17">3</text><text transform="translate(195.47,504.40) scale(0.878,1)" x="-0.52" y="0" font-size="10.17">7</text><text transform="translate(201.17,504.40) scale(1.000,1)" x="-0.93" y="0" font-size="10.17">.</text><text transform="translate(204.92,504.40) scale(0.876,1)" x="-0.51" y="0" font-size="10.17">2</text><text transform="translate(210.62,504.40) scale(0.864,1)" x="-0.48" y="0" font-size="10.17">9</text><text transform="translate(216.32,504.40) scale(1.000,1)" x="-0.93" y="0" font-size="10.17">.</text><text transform="translate(220.07,504.40) scale(0.842,1)" x="-0.39" y="0" font-size="10.17">3</text><text transform="translate(235.36,504.40) scale(0.902,1)" x="-0.45" y="0" font-size="10.17">-</text><text transform="translate(239.24,504.40) scale(0.865,1)" x="-0.52" y="0" font-size="10.17">6</text>
<circle cx="283.0" cy="486.0" r="13.6" fill="none" stroke="#111" stroke-width="1.3"/>
<polyline points="269.4,486.0 296.6,486.0" fill="none" stroke="#111" stroke-width="1.1" stroke-dasharray="6,2"/>
<path d="M278.69,478.56 L279.87,476.69 L279.87,484.00" fill="none" stroke="#111" stroke-width="1.38" stroke-linejoin="round"/><text transform="translate(283.36,484.00) scale(0.864,1)" x="-0.55" y="0" font-size="11.63" style="stroke-width:0.85px">9</text>
<text transform="translate(277.50,496.80) scale(0.876,1)" x="-0.62" y="0" font-size="12.35" style="stroke-width:0.85px">2</text><text transform="translate(283.57,496.80) scale(0.835,1)" x="-0.48" y="0" font-size="12.35" style="stroke-width:0.85px">0</text>
<polyline points="269.4,486.0 257.8,510.0" fill="none" stroke="#111" stroke-width="1.1"/>
<polygon points="75.5,510.4 141.2,510.4 139.5,525.0 137.5,530.5 105.1,530.5 99.9,523.4 75.5,523.4" fill="none" stroke="#111" stroke-width="1.5"/>
<rect x="79.1" y="513.0" width="30.5" height="8.4" rx="2.5" fill="none" stroke="#111" stroke-width="1.6"/>
<polyline points="81.0,517.2 108.0,517.2" fill="none" stroke="#111" stroke-width="1.2" stroke-dasharray="3,2.5"/>
<circle cx="82.5" cy="514.5" r="0.7" fill="none" stroke="#111" stroke-width="1.0"/>
<circle cx="82.5" cy="520.0" r="0.7" fill="none" stroke="#111" stroke-width="1.0"/>
<circle cx="88" cy="514.5" r="0.7" fill="none" stroke="#111" stroke-width="1.0"/>
<circle cx="88" cy="520.0" r="0.7" fill="none" stroke="#111" stroke-width="1.0"/>
<circle cx="94" cy="514.5" r="0.7" fill="none" stroke="#111" stroke-width="1.0"/>
<circle cx="94" cy="520.0" r="0.7" fill="none" stroke="#111" stroke-width="1.0"/>
<circle cx="100" cy="514.5" r="0.7" fill="none" stroke="#111" stroke-width="1.0"/>
<circle cx="100" cy="520.0" r="0.7" fill="none" stroke="#111" stroke-width="1.0"/>
<circle cx="106" cy="514.5" r="0.7" fill="none" stroke="#111" stroke-width="1.0"/>
<circle cx="106" cy="520.0" r="0.7" fill="none" stroke="#111" stroke-width="1.0"/>
<polyline points="111.3,510.4 111.3,530.5" fill="none" stroke="#111" stroke-width="2.0"/>
<circle cx="114.2" cy="514.0" r="0.8" fill="none" stroke="#111" stroke-width="1.0"/>
<circle cx="114.2" cy="526.0" r="0.8" fill="none" stroke="#111" stroke-width="1.0"/>
<polyline points="131.5,513.0 133.6,513.0 133.6,527.0 131.5,527.0" fill="none" stroke="#111" stroke-width="1.6"/>
<polyline points="142.0,509.6 257.0,509.6" fill="none" stroke="#444" stroke-width="1.0" stroke-dasharray="7,2,3,2"/>
<polyline points="142.0,515.8 257.0,515.8" fill="none" stroke="#777" stroke-width="0.9" stroke-dasharray="2,3"/>
<polyline points="145.0,529.5 255.0,529.5" fill="none" stroke="#666" stroke-width="0.9" stroke-dasharray="4,9"/>
<polyline points="258.8,510.0 295.8,510.0 295.8,521.6 288.0,521.6 288.0,528.7 258.8,528.7" fill="none" stroke="#111" stroke-width="1.4"/>
<polyline points="258.8,510.0 256.5,514.0 260.5,518.0 257.5,523.0 259.5,528.7" fill="none" stroke="#111" stroke-width="1.2"/>
<polyline points="263.5,513.0 261.8,513.0 261.8,525.0 263.5,525.0" fill="none" stroke="#111" stroke-width="1.6"/>
<polyline points="280.0,513.0 281.9,513.0 281.9,525.0 280.0,525.0" fill="none" stroke="#111" stroke-width="1.6"/>
<text transform="translate(82.80,543.60) scale(0.968,1)" x="-0.42" y="0" font-size="10.61">5</text><path d="M90.51,538.64 L92.09,536.85 L92.09,543.60" fill="none" stroke="#111" stroke-width="1.10" stroke-linejoin="round"/><text transform="translate(94.93,543.60) scale(0.960,1)" x="-0.41" y="0" font-size="10.61">0</text>
<path d="M109.15,538.64 L110.74,536.85 L110.74,543.60" fill="none" stroke="#111" stroke-width="1.10" stroke-linejoin="round"/><text transform="translate(112.12,543.60) scale(0.968,1)" x="-0.42" y="0" font-size="10.61">5</text><text transform="translate(117.83,543.60) scale(0.960,1)" x="-0.41" y="0" font-size="10.61">0</text>
<text transform="translate(104.20,557.30) scale(0.950,1)" x="-0.50" y="0" font-size="10.61">9</text><text transform="translate(111.37,557.30) scale(0.950,1)" x="-0.50" y="0" font-size="10.61">9</text><text transform="translate(118.54,557.30) scale(0.926,1)" x="-0.42" y="0" font-size="10.61">5</text>
<text transform="translate(189.90,558.50) scale(0.920,1)" x="-0.56" y="0" font-size="11.19">2</text><path d="M197.22,553.26 L198.71,551.35 L198.71,558.50" fill="none" stroke="#111" stroke-width="1.10" stroke-linejoin="round"/><path d="M201.89,553.26 L203.38,551.35 L203.38,558.50" fill="none" stroke="#111" stroke-width="1.10" stroke-linejoin="round"/><text transform="translate(206.01,558.50) scale(0.876,1)" x="-0.44" y="0" font-size="11.19">0</text>
<path d="M273.65,539.03 L275.23,537.15 L275.23,544.20" fill="none" stroke="#111" stroke-width="1.10" stroke-linejoin="round"/><text transform="translate(276.74,544.20) scale(0.951,1)" x="-0.56" y="0" font-size="11.05">6</text><text transform="translate(282.55,544.20) scale(0.926,1)" x="-0.44" y="0" font-size="11.05">5</text>
<text transform="translate(269.90,557.40) scale(0.923,1)" x="-0.45" y="0" font-size="11.19">5</text><text transform="translate(275.10,557.40) scale(0.948,1)" x="-0.52" y="0" font-size="11.19">9</text><text transform="translate(280.30,557.40) scale(0.916,1)" x="-0.44" y="0" font-size="11.19">0</text>
<text transform="translate(298.30,544.20) scale(0.950,1)" x="-0.52" y="0" font-size="11.05">9</text><text transform="translate(304.45,544.20) scale(0.918,1)" x="-0.43" y="0" font-size="11.05">0</text>
<polyline points="75.5,547.4 104.4,547.4" fill="none" stroke="#111" stroke-width="1.4"/>
<polyline points="77.0,561.0 90.0,561.0" fill="none" stroke="#111" stroke-width="1.0"/>
<polyline points="73.3,549.6 77.7,545.2" fill="none" stroke="#111" stroke-width="1.4"/>
<polyline points="101.8,549.6 106.2,545.2" fill="none" stroke="#111" stroke-width="1.4"/>
<polyline points="73.3,562.2 77.7,557.8" fill="none" stroke="#111" stroke-width="1.4"/>
<polyline points="137.9,562.2 142.3,557.8" fill="none" stroke="#111" stroke-width="1.4"/>
<polyline points="255.6,562.2 260.0,557.8" fill="none" stroke="#111" stroke-width="1.4"/>
<polyline points="292.8,562.2 297.2,557.8" fill="none" stroke="#111" stroke-width="1.4"/>
<polyline points="75.5,525.0 75.5,562.0" fill="none" stroke="#111" stroke-width="1.1"/>
<polyline points="104.0,535.0 104.0,549.0" fill="none" stroke="#111" stroke-width="1.1"/>
<polyline points="140.1,530.0 140.1,562.0" fill="none" stroke="#111" stroke-width="1.1"/>
<polyline points="113.5,530.0 113.5,534.0" fill="none" stroke="#111" stroke-width="1.1"/>
<polyline points="258.0,528.0 257.8,562.0" fill="none" stroke="#111" stroke-width="1.1"/>
<polyline points="289.8,530.0 289.8,547.0" fill="none" stroke="#111" stroke-width="1.1"/>
<polyline points="295.0,530.0 295.0,562.0" fill="none" stroke="#111" stroke-width="1.1"/>
<polyline points="288.0,547.8 291.6,544.2" fill="none" stroke="#111" stroke-width="1.4"/>
<g transform="translate(317.60,504.70) rotate(-90)"><text transform="translate(0.00,0.00) scale(0.792,1)" x="-0.21" y="0" font-size="9.30">4</text><text transform="translate(6.79,0.00) scale(0.835,1)" x="-0.36" y="0" font-size="9.30">0</text></g>
<polyline points="321.0,494.5 321.0,513.9" fill="none" stroke="#111" stroke-width="1.1"/>
<polyline points="299.3,507.0 324.0,507.0" fill="none" stroke="#111" stroke-width="1.0" stroke-dasharray="5,1.5"/>
<polyline points="299.3,512.3 324.0,512.3" fill="none" stroke="#111" stroke-width="1.0" stroke-dasharray="5,1.5"/>
<polyline points="319.4,513.9 322.6,510.7" fill="none" stroke="#111" stroke-width="1.4"/>
</svg>
</body></html>
